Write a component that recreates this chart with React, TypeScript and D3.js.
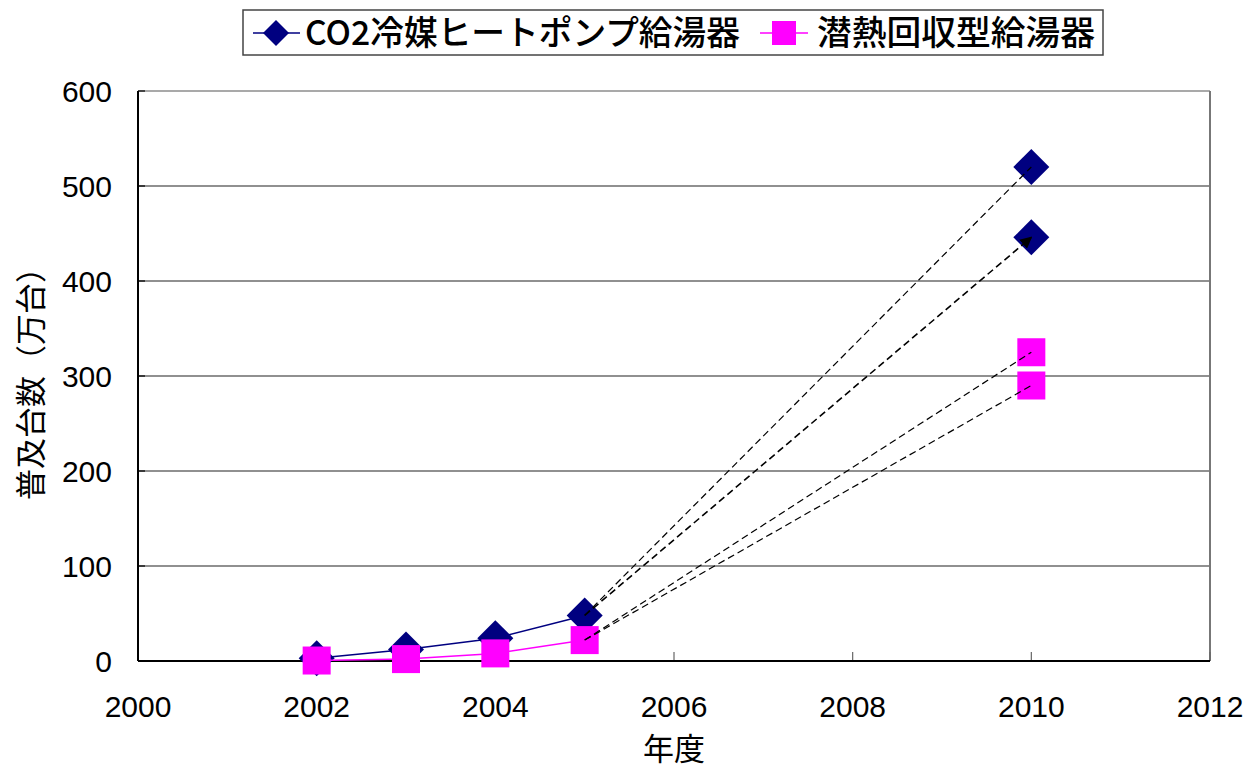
import React from "react";
import * as d3 from "d3";

const years = [2002, 2003, 2004, 2005];
const co2Values = [3, 12, 24, 48];
const latentValues = [0.5, 2, 8, 22];
const co2Targets2010 = [520, 446];
const latentTargets2010 = [325, 290];
const targetYear = 2010;
const xTicks = [2000, 2002, 2004, 2006, 2008, 2010, 2012];
const yTicks = [0, 100, 200, 300, 400, 500, 600];
const seriesNames = ["CO2冷媒ヒートポンプ給湯器", "潜熱回収型給湯器"];

const W = 1251, H = 771;
const m = { left: 138, right: 1210, top: 91, bottom: 661 };
const NAVY = "#000080";
const MAG = "#FF00FF";
const NUM_FONT = "'Liberation Sans', Arial, sans-serif";
const JP_FONT = "'Noto Sans CJK JP', sans-serif";

const Diamond = ({ x, y, r = 18 }: { x: number; y: number; r?: number }) => (
  <path d={`M${x},${y - r}L${x + r},${y}L${x},${y + r}L${x - r},${y}Z`} fill={NAVY} />
);
const Square = ({ x, y, s = 28 }: { x: number; y: number; s?: number }) => (
  <rect x={x - s / 2} y={y - s / 2} width={s} height={s} fill={MAG} />
);

export default function App() {
  const x = d3.scaleLinear().domain([2000, 2012]).range([m.left, m.right]);
  const y = d3.scaleLinear().domain([0, 600]).range([m.bottom, m.top]);
  const line = d3
    .line<[number, number]>()
    .x((d) => x(d[0]))
    .y((d) => y(d[1]));
  const co2Pts: [number, number][] = years.map((yr, i) => [yr, co2Values[i]]);
  const latPts: [number, number][] = years.map((yr, i) => [yr, latentValues[i]]);
  const lastYear = years[years.length - 1];
  const co2Last = co2Values[co2Values.length - 1];
  const latLast = latentValues[latentValues.length - 1];

  return (
    <svg width={W} height={H} style={{ position: "absolute", left: 0, top: 0, background: "#fff" }}>
      <defs>
        <marker id="arr" viewBox="0 0 10 10" refX="9" refY="5" markerWidth="12" markerHeight="12" markerUnits="userSpaceOnUse" orient="auto">
          <path d="M0,0L10,5L0,10Z" fill="#000" />
        </marker>
      </defs>
      {/* gridlines */}
      {yTicks.filter((t) => t > 0).map((t) => (
        <line key={t} x1={m.left} x2={m.right} y1={y(t)} y2={y(t)} stroke={t === 600 ? "#555" : "#222"} strokeWidth={1.2} />
      ))}
      {/* right border */}
      <line x1={m.right} x2={m.right} y1={m.top} y2={m.bottom} stroke="#777" strokeWidth={2} />
      {/* x ticks inward */}
      {xTicks.map((t) => (
        <line key={t} x1={x(t)} x2={x(t)} y1={m.bottom} y2={m.bottom - 9} stroke="#666" strokeWidth={1.2} />
      ))}
      {/* y ticks */}
      {yTicks.map((t) => (
        <line key={t} x1={m.left} x2={m.left + 7} y1={y(t)} y2={y(t)} stroke="#000" strokeWidth={1.2} />
      ))}
      {/* axes */}
      <line x1={m.left} x2={m.left} y1={m.top} y2={m.bottom} stroke="#000" strokeWidth={2} />
      <line x1={m.left} x2={m.right} y1={m.bottom} y2={m.bottom} stroke="#000" strokeWidth={2} />
      {/* tick labels */}
      {xTicks.map((t) => (
        <text key={t} x={x(t)} y={717} textAnchor="middle" fontFamily={NUM_FONT} fontSize={30} fill="#000">
          {t}
        </text>
      ))}
      {yTicks.map((t) => (
        <text key={t} x={112} y={y(t) + 11} textAnchor="end" fontFamily={NUM_FONT} fontSize={30} fill="#000">
          {t}
        </text>
      ))}
      {/* axis titles */}
      <text x={674} y={760} textAnchor="middle" fontFamily={JP_FONT} fontSize={31} fill="#000">年度</text>
      <text transform={`translate(42,376) rotate(-90)`} textAnchor="middle" fontFamily={JP_FONT} fontSize={31} fill="#000">
        普及台数（万台）
      </text>
      {/* series */}
      <path d={line(co2Pts) || ""} fill="none" stroke={NAVY} strokeWidth={1.5} />
      {co2Pts.map((p, i) => (
        <Diamond key={i} x={x(p[0])} y={y(p[1])} />
      ))}
      {co2Targets2010.map((v, i) => (
        <Diamond key={"t" + i} x={x(targetYear)} y={y(v)} />
      ))}
      <path d={line(latPts) || ""} fill="none" stroke={MAG} strokeWidth={1.5} />
      {latPts.map((p, i) => (
        <Square key={i} x={x(p[0])} y={y(p[1])} />
      ))}
      {latentTargets2010.map((v, i) => (
        <Square key={"t" + i} x={x(targetYear)} y={y(v)} />
      ))}
      {/* projection dashed lines */}
      {co2Targets2010.map((v, i) => (
        <line
          key={"dc" + i}
          x1={x(lastYear)}
          y1={y(co2Last)}
          x2={x(targetYear)}
          y2={y(v)}
          stroke="#000"
          strokeWidth={i === 1 ? 1.6 : 1.2}
          strokeDasharray="7,4"
          markerEnd={i === 1 ? "url(#arr)" : undefined}
        />
      ))}
      {latentTargets2010.map((v, i) => (
        <line
          key={"dl" + i}
          x1={x(lastYear)}
          y1={y(latLast)}
          x2={x(targetYear)}
          y2={y(v)}
          stroke="#000"
          strokeWidth={1.2}
          strokeDasharray="7,4"
        />
      ))}
      {/* legend */}
      <rect x={243} y={10} width={860} height={45} fill="#fff" stroke="#444" strokeWidth={1.5} />
      <line x1={253} x2={300} y1={33} y2={33} stroke={NAVY} strokeWidth={1.5} />
      <Diamond x={276} y={33} r={13} />
      <text x={305} y={45} fontFamily={JP_FONT} fontSize={34} fontWeight={500} textLength={435} lengthAdjust="spacingAndGlyphs" fill="#000">{seriesNames[0]}</text>
      <line x1={760} x2={808} y1={33} y2={33} stroke={MAG} strokeWidth={1.5} />
      <Square x={784} y={33} s={24} />
      <text x={817} y={45} fontFamily={JP_FONT} fontSize={34} fontWeight={500} textLength={278} lengthAdjust="spacingAndGlyphs" fill="#000">{seriesNames[1]}</text>
    </svg>
  );
}
